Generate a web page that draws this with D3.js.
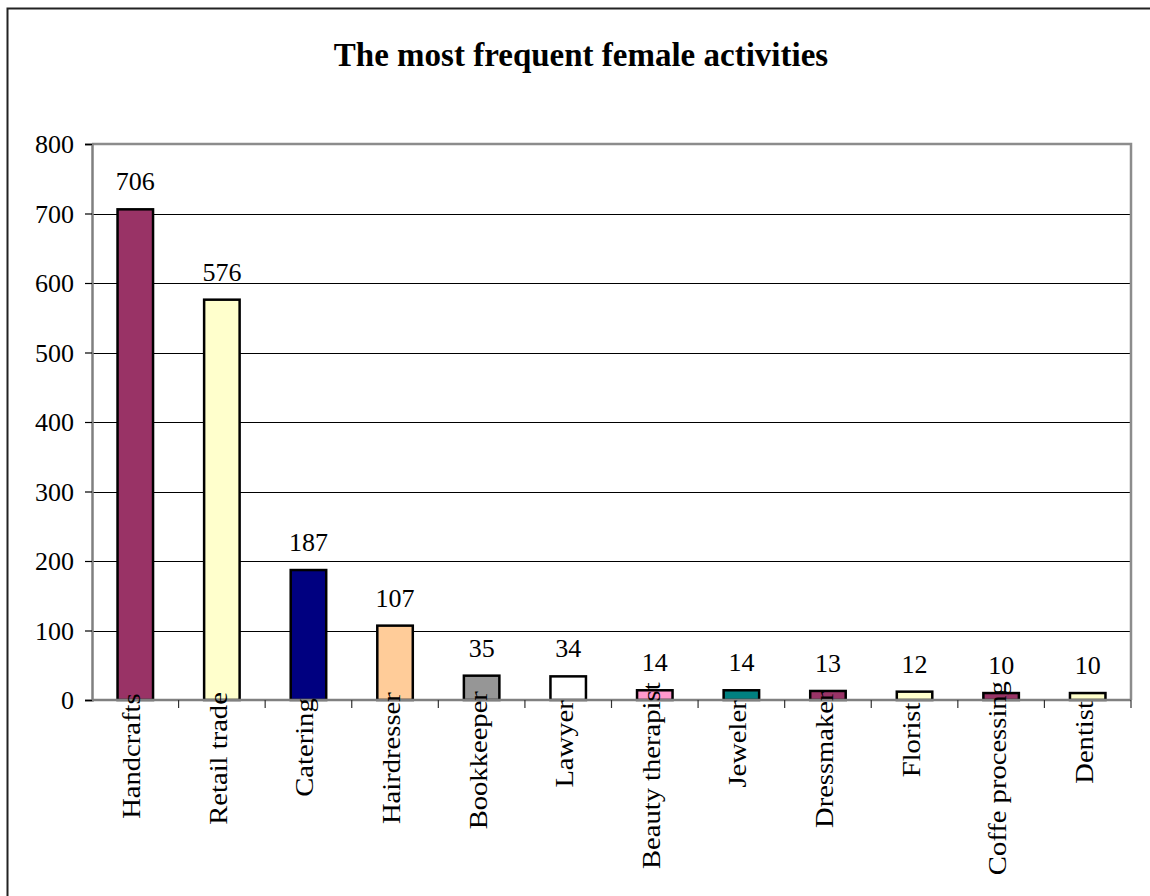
<!DOCTYPE html>
<html>
<head>
<meta charset="utf-8">
<script src="https://cdn.jsdelivr.net/npm/d3@7"></script>
<style>
  html, body { margin: 0; padding: 0; background: #fff; }
  svg { display: block; }
  text { font-family: "Liberation Serif", "Times New Roman", serif; fill: #000; }
</style>
</head>
<body>
<svg id="chart" width="1150" height="896"></svg>
<script>
const categories = ["Handcrafts", "Retail trade", "Catering", "Hairdresser", "Bookkeeper", "Lawyer",
  "Beauty therapist", "Jeweler", "Dressmaker", "Florist", "Coffe processing", "Dentist"];
const values = [706, 576, 187, 107, 35, 34, 14, 14, 13, 12, 10, 10];
const barColors = ["#993366", "#FFFFCC", "#000080", "#FFCC99", "#969696", "#FFFFFF",
  "#FF99CC", "#008080", "#993366", "#FFFFCC", "#993366", "#FFFFCC"];
const yTicks = [0, 100, 200, 300, 400, 500, 600, 700, 800];
const title = "The most frequent female activities";

const svg = d3.select("#chart");
const W = 1150, H = 896;
const plot = { left: 92, right: 1131, top: 144, bottom: 700 };

// outer border
svg.append("rect").attr("x", 7.5).attr("y", 8.5).attr("width", W + 10).attr("height", H + 10)
  .attr("fill", "none").attr("stroke", "#222").attr("stroke-width", 2);

// title
svg.append("text").attr("x", 581).attr("y", 66).attr("text-anchor", "middle")
  .attr("font-size", 33).attr("font-weight", "bold").text(title);

const x = d3.scaleBand().domain(categories).range([plot.left, plot.right])
  .paddingInner(0.59).paddingOuter(0.295);
const y = d3.scaleLinear().domain([0, 800]).range([plot.bottom, plot.top]);

// gridlines
svg.append("g").selectAll("line").data(yTicks.filter(d => d > 0 && d < 800)).join("line")
  .attr("x1", plot.left).attr("x2", plot.right)
  .attr("y1", d => Math.round(y(d)) + 0.5).attr("y2", d => Math.round(y(d)) + 0.5)
  .attr("stroke", "#000").attr("stroke-width", 1);

// plot area border (top & right gray)
svg.append("path")
  .attr("d", `M${plot.left},${plot.top} H${plot.right} V${plot.bottom}`)
  .attr("fill", "none").attr("stroke", "#8c8c8c").attr("stroke-width", 2.5);

// y axis
const yAxis = d3.axisLeft(y).tickValues(yTicks).tickSize(7).tickPadding(11);
const gy = svg.append("g").attr("transform", `translate(${plot.left},0)`).call(yAxis);
gy.select(".domain").attr("stroke", "#808080").attr("stroke-width", 2.5);
gy.selectAll(".tick line").attr("stroke", "#000").attr("stroke-width", 1.2);
gy.selectAll(".tick text").attr("font-size", 26).attr("font-family", "Liberation Serif, serif")
  .attr("fill", "#000").attr("dy", "0.34em");

// bars
svg.append("g").selectAll("rect").data(values).join("rect")
  .attr("x", (d, i) => x(categories[i]))
  .attr("y", d => y(d))
  .attr("width", x.bandwidth())
  .attr("height", d => plot.bottom - y(d))
  .attr("fill", (d, i) => barColors[i])
  .attr("stroke", "#000").attr("stroke-width", 2.5);

// x axis line & ticks between categories
const step = x.step();
const boundaries = d3.range(categories.length + 1).map(i => plot.left + i * step);
svg.append("line").attr("x1", plot.left).attr("x2", plot.right)
  .attr("y1", plot.bottom).attr("y2", plot.bottom)
  .attr("stroke", "#808080").attr("stroke-width", 2.5);
svg.append("g").selectAll("line").data(boundaries.slice(1)).join("line")
  .attr("x1", d => d).attr("x2", d => d)
  .attr("y1", plot.bottom).attr("y2", plot.bottom + 8)
  .attr("stroke", "#333").attr("stroke-width", 1.2);

// value labels
svg.append("g").selectAll("text").data(values).join("text")
  .attr("x", (d, i) => x(categories[i]) + x.bandwidth() / 2)
  .attr("y", d => y(d) - 19)
  .attr("text-anchor", "middle").attr("font-size", 26)
  .text(d => d);

// category labels (rotated)
const stretch = 1.1;
const catG = svg.append("g");
categories.forEach((c, i) => {
  const cx = x(c) + x.bandwidth() / 2 + 5;
  const t = catG.append("text").attr("font-size", 26).text(c);
  const len = t.node().getComputedTextLength() * stretch;
  const top = 716 - 0.18 * len;
  t.attr("transform", `translate(${cx},${top}) rotate(-90) scale(${stretch},1)`).attr("text-anchor", "end");
});
</script>
</body>
</html>
